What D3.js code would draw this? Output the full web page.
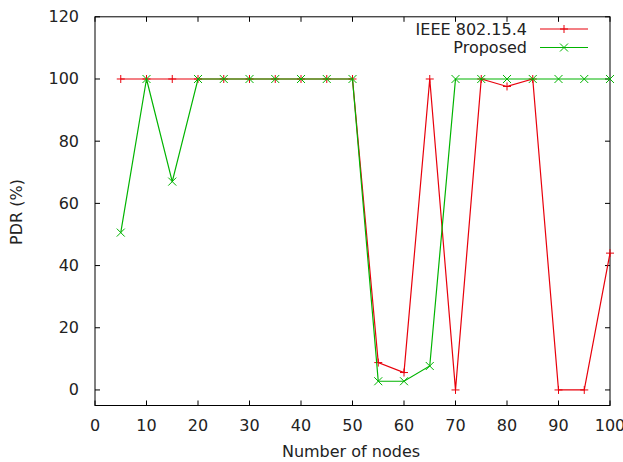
<!DOCTYPE html>
<html>
<head>
<meta charset="utf-8">
<script src="https://cdn.jsdelivr.net/npm/d3@7"></script>
<style>
  body { margin: 0; background: #fff; }
  text { font-family: "DejaVu Sans", sans-serif; fill: #222; font-size: 16px; }
</style>
</head>
<body>
<div id="chart"></div>
<script>
// node counts
var nodes = [5, 10, 15, 20, 25, 30, 35, 40, 45, 50, 55, 60, 65, 70, 75, 80, 85, 90, 95, 100];
// PDR values
var ieee = [100, 100, 100, 100, 100, 100, 100, 100, 100, 100, 8.8, 5.6, 100, 0, 100, 97.6, 100, 0, 0, 44];
var proposed = [50.6, 100, 67, 100, 100, 100, 100, 100, 100, 100, 2.8, 2.8, 7.7, 100, 100, 100, 100, 100, 100, 100];
var xTicks = [0, 10, 20, 30, 40, 50, 60, 70, 80, 90, 100];
var yTicks = [0, 20, 40, 60, 80, 100, 120];

var W = 623, H = 462;
var svg = d3.select("#chart").append("svg").attr("width", W).attr("height", H);

var x = d3.scaleLinear().domain([0, 100]).range([95, 610]);
var y = d3.scaleLinear().domain([-5, 120]).range([405.5, 16.8]);

var tl = 5;
// ticks (mirrored, inward)
xTicks.forEach(function(t){
  svg.append("line").attr("x1", x(t)).attr("x2", x(t)).attr("y1", y(-5)).attr("y2", y(-5) - tl).attr("stroke", "#000");
  svg.append("line").attr("x1", x(t)).attr("x2", x(t)).attr("y1", y(120)).attr("y2", y(120) + tl).attr("stroke", "#000");
  svg.append("text").attr("x", x(t)).attr("y", 431).attr("text-anchor", "middle").text(t);
});
yTicks.forEach(function(t){
  svg.append("line").attr("x1", x(0)).attr("x2", x(0) + tl).attr("y1", y(t)).attr("y2", y(t)).attr("stroke", "#000");
  svg.append("line").attr("x1", x(100)).attr("x2", x(100) - tl).attr("y1", y(t)).attr("y2", y(t)).attr("stroke", "#000");
  svg.append("text").attr("x", 79).attr("y", y(t) + 5.5).attr("text-anchor", "end").text(t);
});

svg.append("rect").attr("x", x(0)).attr("y", y(120)).attr("width", x(100) - x(0)).attr("height", y(-5) - y(120))
  .attr("fill", "none").attr("stroke", "#000").attr("stroke-width", 1);

svg.append("text").attr("x", 351).attr("y", 457).attr("text-anchor", "middle").text("Number of nodes");
svg.append("text").attr("transform", "translate(22,212) rotate(-90)").attr("text-anchor", "middle").text("PDR (%)");

var line = d3.line().x(function(d){ return x(d[0]); }).y(function(d){ return y(d[1]); });

function plus(g, cx, cy, col){
  g.append("path").attr("d", "M" + (cx - 4) + "," + cy + "h8M" + cx + "," + (cy - 4) + "v8").attr("stroke", col).attr("fill", "none");
}
function cross(g, cx, cy, col){
  g.append("path").attr("d", "M" + (cx - 4) + "," + (cy - 4) + "l8,8M" + (cx - 4) + "," + (cy + 4) + "l8,-8").attr("stroke", col).attr("fill", "none");
}

var series = [
  { name: "IEEE 802.15.4", vals: ieee, col: "#e8000b", mark: plus },
  { name: "Proposed", vals: proposed, col: "#00b400", mark: cross }
];

series.forEach(function(s, i){
  var pts = nodes.map(function(n, j){ return [n, s.vals[j]]; });
  var g = svg.append("g");
  g.append("path").datum(pts).attr("d", line).attr("fill", "none").attr("stroke", s.col).attr("stroke-width", 1.2);
  pts.forEach(function(p){ s.mark(g, x(p[0]), y(p[1]), s.col); });
  // legend
  var ly = 29 + i * 18.5;
  svg.append("text").attr("x", 527).attr("y", ly + 5.5).attr("text-anchor", "end").text(s.name);
  g.append("line").attr("x1", 540).attr("x2", 588).attr("y1", ly).attr("y2", ly).attr("stroke", s.col).attr("stroke-width", 1.2);
  s.mark(g, 564, ly, s.col);
});
</script>
</body>
</html>
